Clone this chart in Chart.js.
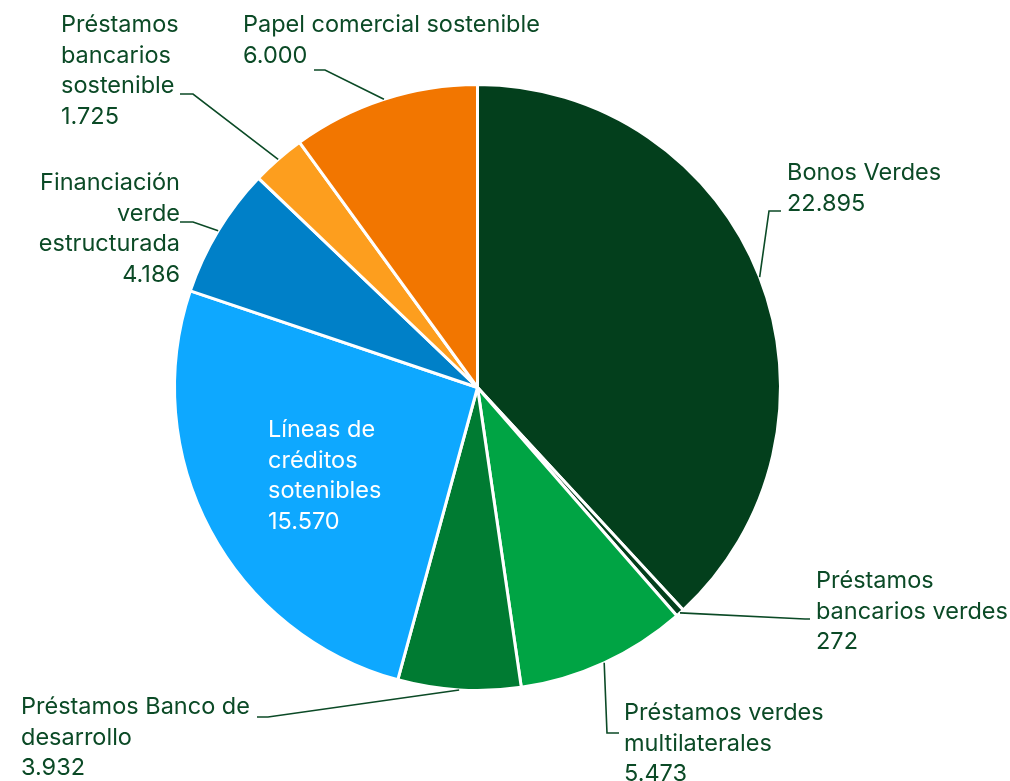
<!DOCTYPE html>
<html>
<head>
<meta charset="utf-8">
<script src="https://cdn.jsdelivr.net/npm/chart.js@4.4.1/dist/chart.umd.min.js"></script>
<style>
  body { margin: 0; background: #fff; }
  #wrap { width: 1010px; height: 781px; position: relative; }
</style>
</head>
<body>
<div id="wrap"><canvas id="pieChart"></canvas></div>
<script>
// Data
const categories = [
  ['Bonos Verdes'],
  ['Préstamos', 'bancarios verdes'],
  ['Préstamos verdes', 'multilaterales'],
  ['Préstamos Banco de', 'desarrollo'],
  ['Líneas de', 'créditos', 'sotenibles'],
  ['Financiación', 'verde', 'estructurada'],
  ['Préstamos', 'bancarios', 'sostenible'],
  ['Papel comercial sostenible']
];
const values = [22895, 272, 5473, 3932, 15570, 4186, 1725, 6000];
const colors = ['#033f1c', '#033f1c', '#00a444', '#007b32', '#0ea8ff', '#0080c8', '#fd9e1e', '#f27600'];

// label placement (x, first line y, align, elbow, line end)
const labelPos = [
  { x: 787, y: 173, align: 'left', elbow: [769, 211], end: [781, 211] },
  { x: 816, y: 581, align: 'left', elbow: [805, 619], end: [810, 619] },
  { x: 624, y: 713, align: 'left', elbow: [607, 733], end: [619, 733] },
  { x: 21, y: 707, align: 'left', elbow: [268, 717], end: [257, 717] },
  { x: 268, y: 430, align: 'left', inside: true },
  { x: 180, y: 183, align: 'right', elbow: [193, 222], end: [180, 222] },
  { x: 61, y: 25, align: 'left', elbow: [193, 94], end: [180, 94] },
  { x: 243, y: 25, align: 'left', elbow: [325, 70], end: [314, 70] }
];

const textColor = '#0b4a26';
const lineH = 30.5;

function fmt(n) {
  return String(n).replace(/\B(?=(\d{3})+(?!\d))/g, '.');
}

const labelPlugin = {
  id: 'pieLabels',
  afterDraw(chart) {
    const ctx = chart.ctx;
    const arcs = chart.getDatasetMeta(0).data;
    ctx.save();
    ctx.font = '23.5px Inter, "Noto Sans", sans-serif';
    ctx.textBaseline = 'middle';
    arcs.forEach((arc, i) => {
      const p = labelPos[i];
      const mid = (arc.startAngle + arc.endAngle) / 2;
      if (!p.inside) {
        const sx = arc.x + Math.cos(mid) * arc.outerRadius;
        const sy = arc.y + Math.sin(mid) * arc.outerRadius;
        ctx.strokeStyle = textColor;
        ctx.lineWidth = 1.6;
        ctx.beginPath();
        ctx.moveTo(sx, sy);
        ctx.lineTo(p.elbow[0], p.elbow[1]);
        ctx.lineTo(p.end[0], p.end[1]);
        ctx.stroke();
      }
      const lines = categories[i].concat([fmt(values[i])]);
      ctx.fillStyle = p.inside ? '#ffffff' : textColor;
      ctx.textAlign = p.align;
      lines.forEach((t, k) => ctx.fillText(t, p.x, p.y + k * lineH));
    });
    ctx.restore();
  }
};

const ctx = document.getElementById('pieChart').getContext('2d');
const pieChart = new Chart(ctx, {
  type: 'pie',
  data: {
    labels: categories,
    datasets: [{
      data: values,
      backgroundColor: colors,
      borderColor: '#ffffff',
      borderWidth: 3
    }]
  },
  options: {
    responsive: true,
    maintainAspectRatio: false,
    animation: false,
    layout: { padding: { left: 173, right: 228, top: 83, bottom: 89 } },
    plugins: {
      legend: { display: false },
      tooltip: { enabled: false }
    }
  },
  plugins: [labelPlugin]
});
</script>
</body>
</html>
